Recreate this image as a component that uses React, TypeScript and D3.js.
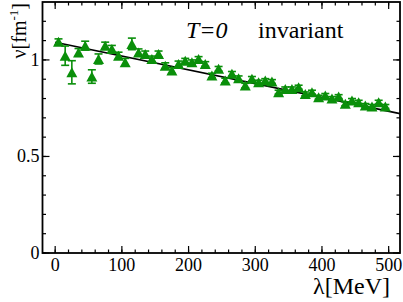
import React from "react";
import * as d3 from "d3";

const lambdas = [5, 15, 25, 35, 45, 55, 65, 75, 85, 95, 105, 115, 125, 135, 145, 155, 165, 175, 185, 195, 205, 215, 225, 235, 245, 255, 265, 275, 285, 295, 305, 315, 325, 335, 345, 355, 365, 375, 385, 395, 405, 415, 425, 435, 445, 455, 465, 475, 485, 495];
const nuValues = [1.094, 1.022, 0.936, 1.039, 1.074, 0.914, 1.005, 1.074, 1.057, 1.022, 0.988, 1.083, 1.039, 1.031, 1.005, 1.031, 0.97, 0.945, 0.979, 0.996, 0.988, 1.005, 0.979, 0.919, 0.954, 0.893, 0.928, 0.905, 0.867, 0.902, 0.885, 0.893, 0.888, 0.833, 0.85, 0.85, 0.859, 0.824, 0.833, 0.807, 0.816, 0.8, 0.81, 0.773, 0.79, 0.781, 0.764, 0.759, 0.781, 0.759];
const nuErrors = [0.015, 0.05, 0.06, 0.02, 0.023, 0.035, 0.026, 0.018, 0.018, 0.018, 0.02, 0.03, 0.018, 0.015, 0.015, 0.015, 0.015, 0.015, 0.015, 0.012, 0.012, 0.012, 0.012, 0.012, 0.012, 0.012, 0.012, 0.012, 0.012, 0.012, 0.01, 0.01, 0.01, 0.01, 0.01, 0.01, 0.01, 0.01, 0.01, 0.01, 0.01, 0.01, 0.01, 0.01, 0.01, 0.01, 0.01, 0.01, 0.01, 0.01];
const fitLine = [
  { x: 0, y: 1.092 },
  { x: 517, y: 0.722 },
];
const xMajorTicks = [0, 100, 200, 300, 400, 500];
const xMinorTicks = d3.range(0, 517, 20);
const yMajorTicks = [0, 0.5, 1];
const yMinorTicks = d3.range(0, 1.3, 0.1);
const yTickLabels = ["0", "0.5", "1"];

const W = 403;
const H = 302;
const GREEN = "#0a8f0a";
const FONT = '"Liberation Serif"';

export default function App() {
  const x = d3.scaleLinear().domain([-19, 517]).range([42.5, 400]);
  const y = d3.scaleLinear().domain([0, 1.3]).range([253, 2]);
  const [x0, x1] = x.range();
  const [y0, y1] = y.range();
  const majorLen = 7;
  const minorLen = 3.5;
  const line = d3
    .line<{ x: number; y: number }>()
    .x((d) => x(d.x))
    .y((d) => y(d.y));
  const tri = (cx: number, cy: number) => {
    const hw = 5.5, h = 10;
    return `M${cx - hw},${cy + h / 2}L${cx + hw},${cy + h / 2}L${cx},${cy - h / 2}Z`;
  };
  const ts = { fontFamily: FONT };

  return (
    <svg width={W} height={H} style={{ position: "absolute", left: 0, top: 0 }}>
      <rect width={W} height={H} fill="white" />
      <path d={line(fitLine) || ""} stroke="black" strokeWidth={1.6} fill="none" />
      {lambdas.map((l, i) => {
        const cx = x(l);
        const top = y(nuValues[i] + nuErrors[i]);
        const bot = y(nuValues[i] - nuErrors[i]);
        return (
          <g key={"e" + i} stroke={GREEN} strokeWidth={1.6}>
            <line x1={cx} x2={cx} y1={top} y2={bot} />
            <line x1={cx - 4} x2={cx + 4} y1={top} y2={top} />
            <line x1={cx - 4} x2={cx + 4} y1={bot} y2={bot} />
          </g>
        );
      })}
      {lambdas.map((l, i) => (
        <path key={"m" + i} d={tri(x(l), y(nuValues[i]))} fill={GREEN} />
      ))}
      <rect x={x0} y={y1} width={x1 - x0} height={y0 - y1} fill="none" stroke="black" strokeWidth={1.8} />
      {xMinorTicks.map((t) => (
        <g key={"xm" + t} stroke="black" strokeWidth={1.2}>
          <line x1={x(t)} x2={x(t)} y1={y0} y2={y0 - minorLen} />
          <line x1={x(t)} x2={x(t)} y1={y1} y2={y1 + minorLen} />
        </g>
      ))}
      {xMajorTicks.map((t) => (
        <g key={"xM" + t}>
          <line x1={x(t)} x2={x(t)} y1={y0} y2={y0 - majorLen} stroke="black" strokeWidth={1.2} />
          <line x1={x(t)} x2={x(t)} y1={y1} y2={y1 + majorLen} stroke="black" strokeWidth={1.2} />
          <text x={x(t)} y={y0 + 18} fontSize={18} textAnchor="middle" fill="black" style={ts}>
            {t}
          </text>
        </g>
      ))}
      {yMinorTicks.map((t) => (
        <g key={"ym" + t} stroke="black" strokeWidth={1.2}>
          <line x1={x0} x2={x0 + minorLen} y1={y(t)} y2={y(t)} />
          <line x1={x1} x2={x1 - minorLen} y1={y(t)} y2={y(t)} />
        </g>
      ))}
      {yMajorTicks.map((t, i) => (
        <g key={"yM" + t}>
          <line x1={x0} x2={x0 + majorLen} y1={y(t)} y2={y(t)} stroke="black" strokeWidth={1.2} />
          <line x1={x1} x2={x1 - majorLen} y1={y(t)} y2={y(t)} stroke="black" strokeWidth={1.2} />
          <text x={x0 - 3} y={y(t) + 6} fontSize={18} textAnchor="end" fill="black" style={ts}>
            {yTickLabels[i]}
          </text>
        </g>
      ))}
      <text x={186} y={38} fontSize={24} fill="black" style={ts}>
        <tspan fontStyle="italic">T=0</tspan>
        <tspan x={258}>invariant</tspan>
      </text>
      <text x={390} y={294} fontSize={24} textAnchor="end" fill="black" style={ts}>
        λ[MeV]
      </text>
      <text transform="translate(26,3) rotate(-90)" fontSize={20} textAnchor="end" fill="black" style={ts}>
        ν[fm<tspan fontSize={13} dy={-8}>-1</tspan><tspan dy={8}>]</tspan>
      </text>
    </svg>
  );
}
